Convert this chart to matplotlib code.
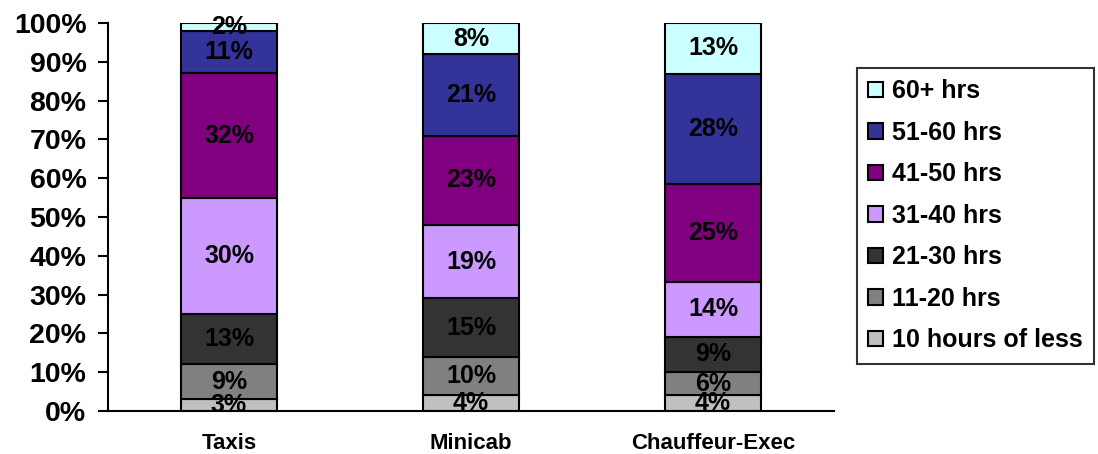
import matplotlib
matplotlib.use("Agg")
import matplotlib.pyplot as plt
import numpy as np

plt.rcParams['font.family'] = ['Liberation Sans', 'DejaVu Sans']
plt.rcParams['font.weight'] = 'bold'

categories = ["Taxis", "Minicab", "Chauffeur-Exec"]
series_names = ["10 hours of less", "11-20 hrs", "21-30 hrs", "31-40 hrs",
                "41-50 hrs", "51-60 hrs", "60+ hrs"]
values = {
    "10 hours of less": [3, 4, 4],
    "11-20 hrs": [9, 10, 6],
    "21-30 hrs": [13, 15, 9],
    "31-40 hrs": [30, 19, 14],
    "41-50 hrs": [32, 23, 25],
    "51-60 hrs": [11, 21, 28],
    "60+ hrs": [2, 8, 13],
}
colors = {
    "10 hours of less": "#C0C0C0",
    "11-20 hrs": "#808080",
    "21-30 hrs": "#333333",
    "31-40 hrs": "#CC99FF",
    "41-50 hrs": "#800080",
    "51-60 hrs": "#333399",
    "60+ hrs": "#CCFFFF",
}
y_ticks = [0, 10, 20, 30, 40, 50, 60, 70, 80, 90, 100]

fig = plt.figure(figsize=(10.98, 4.54), dpi=100)
ax = fig.add_axes([108 / 1098, 43 / 454, 726 / 1098, 388 / 454])

x = np.arange(len(categories))
totals = np.sum([values[s] for s in series_names], axis=0)
bottom = np.zeros(len(categories))
handles = {}
for s in series_names:
    raw = np.array(values[s], dtype=float)
    share = raw / totals * 100
    bars = ax.bar(x, share, width=0.4, bottom=bottom, color=colors[s],
                  edgecolor="black", linewidth=1.5, label=s, zorder=2)
    handles[s] = bars
    for xi, b, h, v in zip(x, bottom, share, raw):
        ax.text(xi, b + h / 2, f"{v:.0f}%", ha="center", va="center",
                fontsize=18, fontweight="bold", color="black", zorder=3)
    bottom += share

ax.set_xlim(-0.5, len(categories) - 0.5)
ax.set_ylim(0, 100)
ax.set_yticks(y_ticks)
ax.set_yticklabels([f"{t}%" for t in y_ticks], fontsize=20.5, fontweight="bold")
ax.set_xticks(x)
ax.set_xticklabels(categories, fontsize=16, fontweight="bold")
ax.tick_params(axis="y", direction="out", length=7.5, width=1.5, pad=8)
ax.tick_params(axis="x", length=0, pad=15.5)
for side in ("top", "right"):
    ax.spines[side].set_visible(False)
for side in ("left", "bottom"):
    ax.spines[side].set_linewidth(1.5)

order = list(reversed(series_names))
leg = fig.legend([handles[s] for s in order], order,
                 loc="upper left", bbox_to_anchor=(857 / 1098, (454 - 68) / 454),
                 bbox_transform=fig.transFigure, borderaxespad=0,
                 fancybox=False, shadow=False, frameon=True,
                 prop={"size": 18, "weight": "bold"},
                 handlelength=0.6, handleheight=0.6, handletextpad=0.35,
                 labelspacing=0.7, borderpad=0.45)
leg.get_frame().set_edgecolor("black")
leg.get_frame().set_linewidth(1.5)

fig.savefig("out.png", dpi=100)
